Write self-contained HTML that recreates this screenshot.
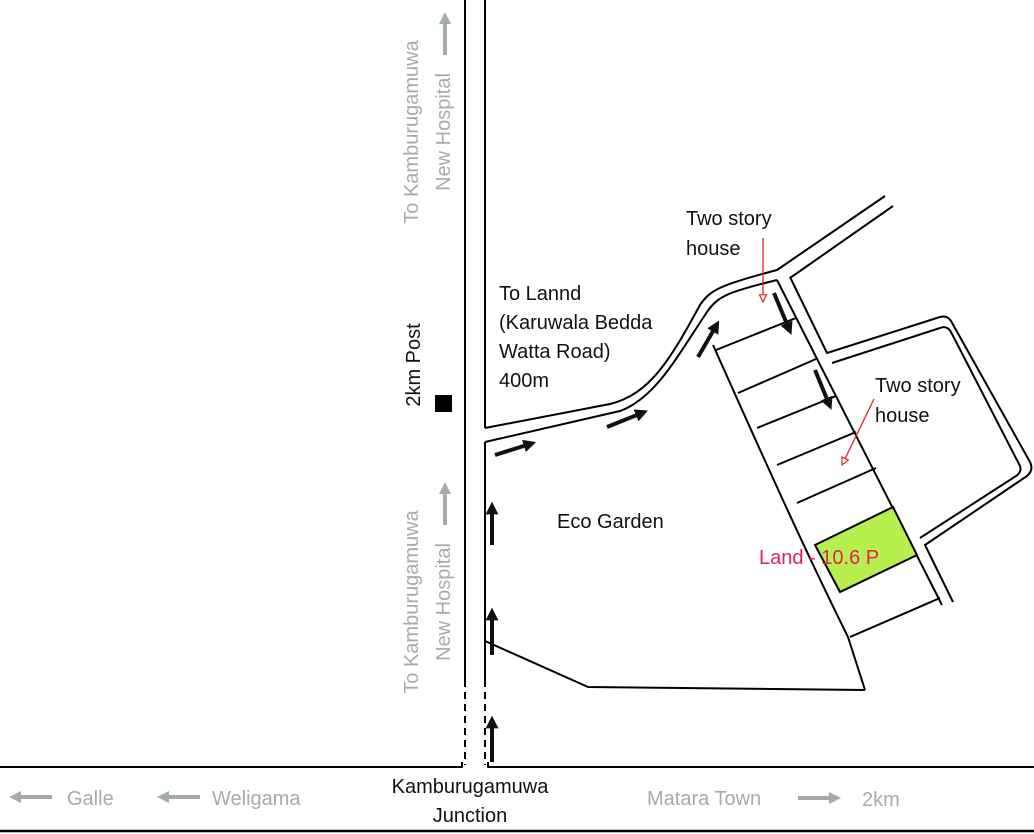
<!DOCTYPE html>
<html><head><meta charset="utf-8"><style>
html,body{margin:0;padding:0;background:#fff;width:1034px;height:834px;overflow:hidden}
svg{display:block}
text{font-family:"Liberation Sans",sans-serif}
</style></head><body>
<svg width="1034" height="834" viewBox="0 0 1034 834" xmlns="http://www.w3.org/2000/svg">
<defs>
<marker id="ah" viewBox="0 0 10 10" refX="5" refY="5" markerWidth="3.2" markerHeight="3.2" orient="auto"><path d="M0,0L10,5L0,10z" fill="#111"/></marker>
<marker id="gh" viewBox="0 0 10 10" refX="5" refY="5" markerWidth="3" markerHeight="3" orient="auto"><path d="M0,0L10,5L0,10z" fill="#a3acaa"/></marker>
<marker id="rh" viewBox="0 0 10 10" refX="9" refY="5" markerWidth="9" markerHeight="9" orient="auto" markerUnits="userSpaceOnUse"><path d="M1,1L9,5L1,9z" fill="#fff" stroke="#e02020" stroke-width="1.3"/></marker>
</defs>
<g fill="none" stroke="#000" stroke-width="2" stroke-linejoin="round">
<line x1="465" y1="0" x2="465" y2="680"/>
<line x1="465" y1="680" x2="465" y2="765" stroke-dasharray="7,5"/>
<line x1="485" y1="0" x2="485" y2="428"/>
<line x1="485" y1="442" x2="485" y2="680"/>
<line x1="485" y1="680" x2="485" y2="765" stroke-dasharray="7,5"/>
<polyline points="0,767 462,767 462,762"/>
<polyline points="488,762 488,767 1034,767"/>
<line x1="0" y1="831" x2="1034" y2="831" stroke-width="2.5"/>
<path d="M485,428 L610,404 C650,394 670,360 700,305 C710,290 720,285 777,270 L885,196"/>
<path d="M485,442 L620,411 C655,398 675,360 707,312 C718,296 728,292 777,280"/>
<path d="M790,278 L893,206"/>
<line x1="777" y1="280" x2="942" y2="605"/>
<path d="M790,277 L827,353 L940,317 Q947,315 951,321 L1030,462 Q1034,470 1027,476 L925,545 L953,602"/>
<path d="M832,363 L940,328 Q947,325 951,332 L1020,466 Q1022,472 1016,476 L920,538"/>
<path d="M713,345 C760,450 800,540 848,637 L865,690"/>
<polyline points="485,641 588,687 865,690"/>
<line x1="716" y1="350" x2="796" y2="318"/>
<line x1="738" y1="393" x2="816" y2="359"/>
<line x1="757" y1="428" x2="836" y2="396"/>
<line x1="777" y1="465" x2="856" y2="432"/>
<line x1="797" y1="503" x2="876" y2="468"/>
<line x1="850" y1="637" x2="940" y2="598"/>
</g>
<polygon points="815,545 893,507 917,555 840,592" fill="#b7f04e" stroke="#000" stroke-width="2"/>
<g stroke="#111" stroke-width="4" marker-end="url(#ah)">
<line x1="492" y1="545" x2="492" y2="508"/>
<line x1="492" y1="655" x2="492" y2="614"/>
<line x1="492" y1="762" x2="492" y2="722"/>
<line x1="495" y1="455" x2="530" y2="444"/>
<line x1="607" y1="427" x2="642" y2="413"/>
<line x1="698" y1="357" x2="716" y2="326"/>
<line x1="774" y1="293" x2="789" y2="329"/>
<line x1="815" y1="370" x2="829" y2="404"/>
</g>
<g stroke="#e02020" stroke-width="1.3" marker-end="url(#rh)">
<line x1="763" y1="238" x2="763" y2="302"/>
<line x1="874" y1="399" x2="842" y2="465"/>
</g>
<g stroke="#a3acaa" stroke-width="4" marker-end="url(#gh)">
<line x1="445" y1="55" x2="445" y2="18"/>
<line x1="445" y1="525" x2="445" y2="488"/>
<line x1="52" y1="797" x2="15" y2="797"/>
<line x1="200" y1="797" x2="163" y2="797"/>
<line x1="798" y1="798" x2="835" y2="798"/>
</g>
<rect x="435" y="395" width="17" height="17" fill="#000"/>
<g font-size="20" fill="#a3acaa">
<text transform="translate(418,132) rotate(-90)" text-anchor="middle">To Kamburugamuwa</text>
<text transform="translate(450,132) rotate(-90)" text-anchor="middle">New Hospital</text>
<text transform="translate(418,602) rotate(-90)" text-anchor="middle">To Kamburugamuwa</text>
<text transform="translate(450,602) rotate(-90)" text-anchor="middle">New Hospital</text>
<text x="67" y="805">Galle</text>
<text x="212" y="805">Weligama</text>
<text x="647" y="805">Matara Town</text>
<text x="862" y="806">2km</text>
</g>
<g font-size="20" fill="#111">
<text transform="translate(420,365) rotate(-90)" text-anchor="middle">2km Post</text>
<text x="470" y="793" text-anchor="middle">Kamburugamuwa</text>
<text x="470" y="822" text-anchor="middle">Junction</text>
<text x="499" y="300">To Lannd</text>
<text x="499" y="329">(Karuwala Bedda</text>
<text x="499" y="358">Watta Road)</text>
<text x="499" y="387">400m</text>
<text x="557" y="528">Eco Garden</text>
<text x="686" y="225">Two story</text>
<text x="686" y="255">house</text>
<text x="875" y="392">Two story</text>
<text x="875" y="422">house</text>
</g>
<text x="759" y="564" font-size="20" fill="#e0205a">Land - 10.6 P</text>
</svg>
</body></html>
